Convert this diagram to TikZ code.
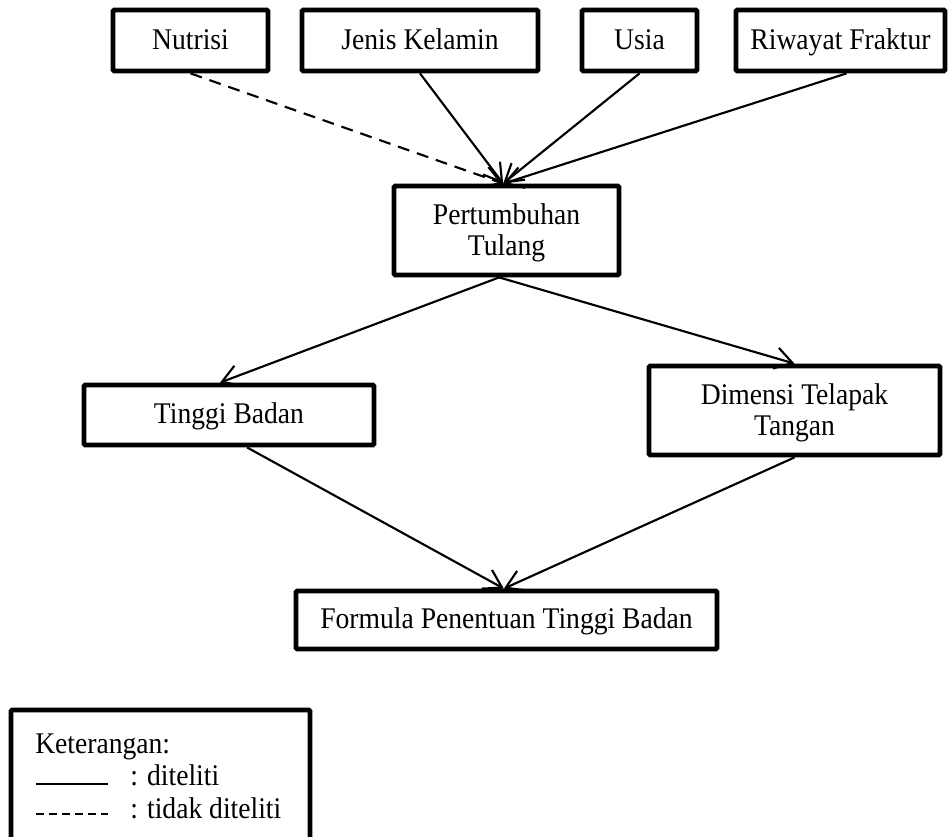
\documentclass[tikz,border=0pt]{standalone}
\usepackage{fontspec}
\setmainfont{Liberation Serif}[FakeStretch=0.92]
\usetikzlibrary{arrows.meta}
\newcommand{\topstrut}{\rule{0pt}{19.5pt}}
\begin{document}
\begin{tikzpicture}[x=0.75pt,y=-0.75pt,
  box/.style={draw, line width=3.6pt, rounded corners=1pt, inner sep=0pt, align=center,
    font=\fontsize{22.5pt}{23pt}\selectfont},
  onebox/.style={box, text height=17pt, text depth=4pt},
  conn/.style={line width=1.6pt, -{Straight Barb[length=13pt,width=16pt]}},
  dashconn/.style={conn, dash pattern=on 9pt off 6pt},
  legtxt/.style={inner sep=0pt, anchor=base west, font=\fontsize{22.5pt}{24pt}\selectfont}]
\fill[white] (0,0) rectangle (948,836);
\useasboundingbox (0,0) rectangle (948,836);
% top row
\node[onebox, minimum width=116.25pt, minimum height=45.75pt] (nut) at (190.5,40.5) {Nutrisi};
\node[onebox, minimum width=177pt, minimum height=45.75pt] (jen) at (420,40.5) {Jenis Kelamin};
\node[onebox, minimum width=86.25pt, minimum height=45.75pt] (usia) at (639.5,40.5) {Usia};
\node[onebox, minimum width=156.75pt, minimum height=45.75pt] (riw) at (840.5,40.5) {Riwayat Fraktur};
% middle
\node[box, minimum width=168.75pt, minimum height=66.75pt] (pert) at (506.5,230.5) {\topstrut Pertumbuhan\\Tulang};
\node[onebox, minimum width=217.5pt, minimum height=45pt] (tinggi) at (229,415) {Tinggi Badan};
\node[box, minimum width=218.25pt, minimum height=66.75pt] (dim) at (794.5,410.5) {\topstrut Dimensi Telapak\\Tangan};
\node[onebox, minimum width=315.75pt, minimum height=43.5pt] (form) at (506.5,620) {Formula Penentuan Tinggi Badan};
% connectors
\draw[dashconn] (nut.south) -- ([xshift=-2.5pt]pert.north);
\draw[conn] (jen.south) -- ([xshift=-2.5pt]pert.north);
\draw[conn] (usia.south) -- ([xshift=-2.5pt]pert.north);
\draw[conn] ([xshift=4.5pt]riw.south) -- ([xshift=-2.5pt]pert.north);
\draw[conn] ([xshift=-5.5pt]pert.south) -- ([xshift=-6.75pt]tinggi.north);
\draw[conn] ([xshift=-5.5pt]pert.south) -- (dim.north);
\draw[conn] ([xshift=13.5pt]tinggi.south) -- ([xshift=-2pt]form.north);
\draw[conn] (dim.south) -- ([xshift=-2pt]form.north);
% legend
\coordinate (lbl) at (11,838);
\coordinate (ltl) at (11,710);
\coordinate (ltr) at (310,710);
\coordinate (lbr) at (310,838);
\draw[line width=3.6pt, rounded corners=1pt] (lbl) -- (ltl) -- (ltr) -- (lbr);
\node[legtxt] (ket) at (35,753) {Keterangan:};
\node[legtxt] (dit) at (130,785) {: diteliti};
\node[legtxt] (tdit) at (130,818) {: tidak diteliti};
\coordinate (s1) at (36,784);
\coordinate (s2) at (108,784);
\coordinate (d1) at (36,814);
\coordinate (d2) at (108,814);
\draw[line width=1.5pt] (s1) -- (s2);
\draw[line width=1.1pt, dash pattern=on 6pt off 3.8pt] (d1) -- (d2);
\end{tikzpicture}
\end{document}
